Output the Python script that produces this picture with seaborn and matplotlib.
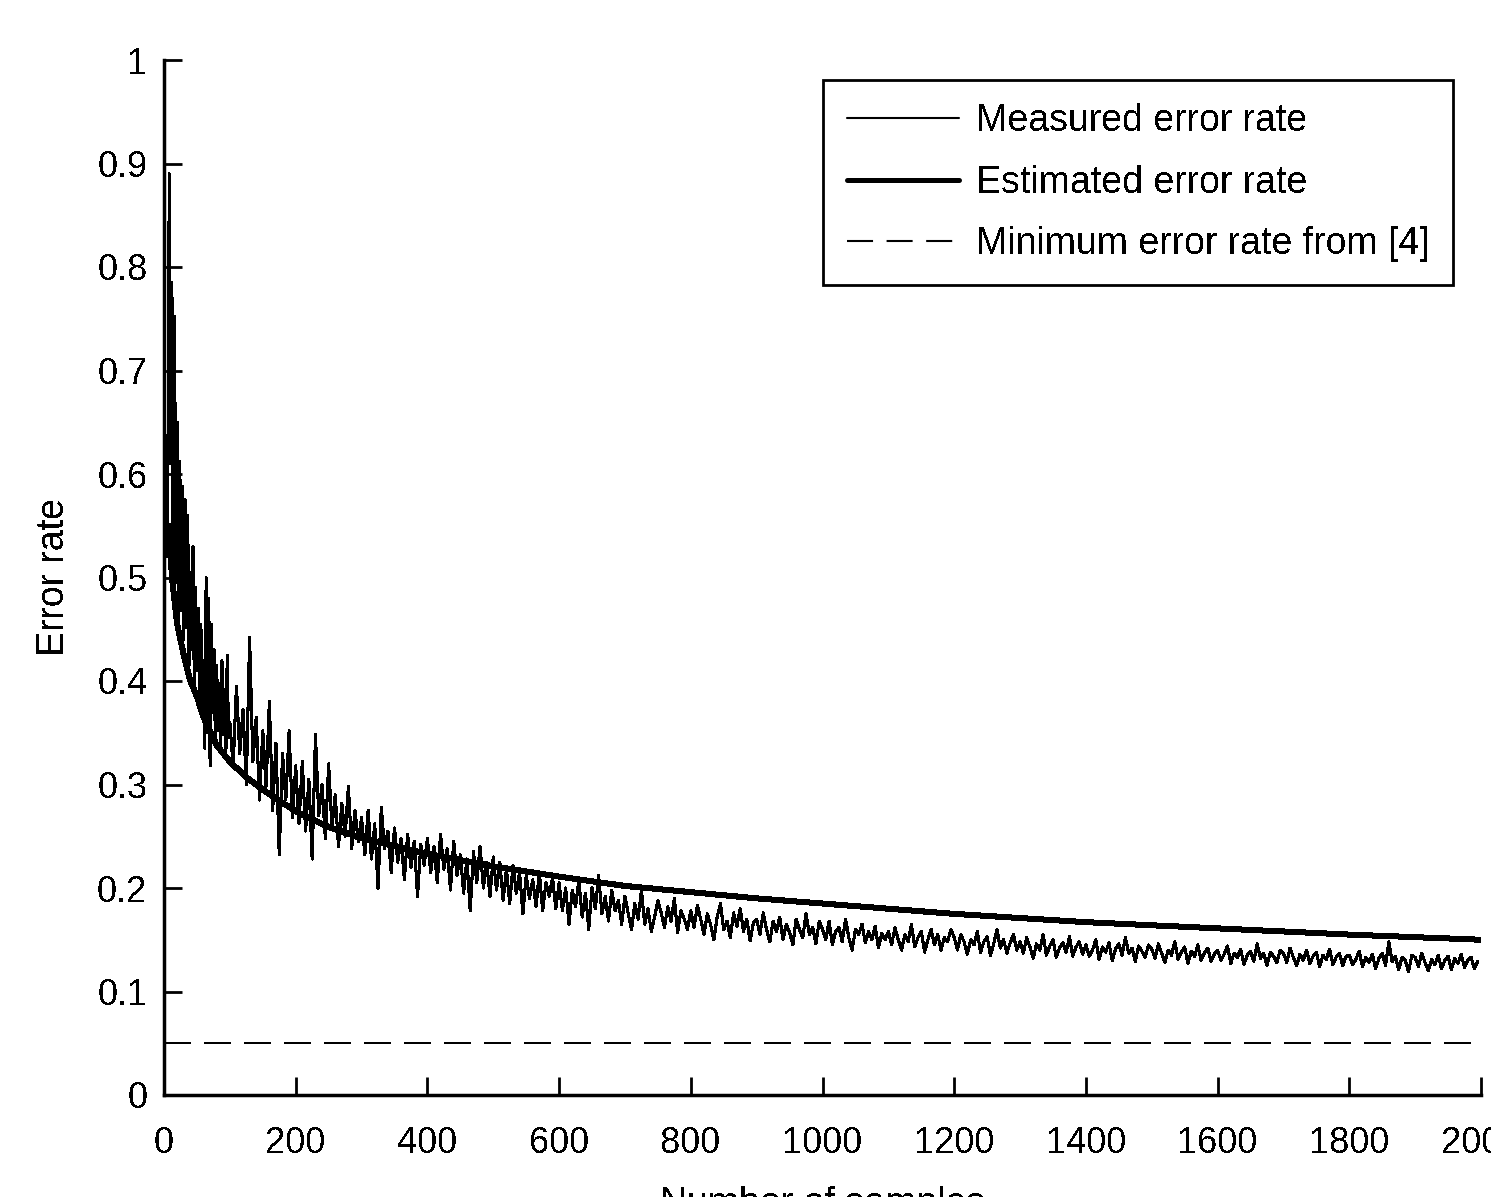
import numpy as np
import pandas as pd
import matplotlib
matplotlib.use('Agg')
import matplotlib.pyplot as plt
import seaborn as sns


# Measured error rate (every 2 samples up to 98)
early_samples = np.arange(0, 100, 2)
measured_early = [
    0.550, 0.545, 0.520, 0.620, 0.890, 0.610, 0.785, 0.470, 0.752, 0.495,
    0.650, 0.455, 0.612, 0.468, 0.588, 0.440, 0.575, 0.452, 0.560, 0.415,
    0.505, 0.430, 0.530, 0.395, 0.490, 0.410, 0.470, 0.380, 0.455, 0.372,
    0.420, 0.335, 0.500, 0.350, 0.480, 0.318, 0.455, 0.370, 0.430, 0.340,
    0.415, 0.352, 0.398, 0.335, 0.420, 0.348, 0.392, 0.330, 0.425, 0.345,
]

# Measured error rate from 100 on (every 5 samples, one row per 100 samples)
late_samples = np.arange(100, 2000, 5)
measured_late = [
    0.360, 0.318, 0.395, 0.330, 0.372, 0.300, 0.442, 0.322, 0.365, 0.285, 0.352, 0.298, 0.380, 0.275, 0.340, 0.232, 0.330, 0.285, 0.352, 0.268,
    0.318, 0.262, 0.322, 0.255, 0.305, 0.228, 0.348, 0.270, 0.300, 0.248, 0.320, 0.258, 0.290, 0.240, 0.282, 0.250, 0.298, 0.238, 0.275, 0.245,
    0.268, 0.232, 0.275, 0.228, 0.262, 0.200, 0.278, 0.238, 0.255, 0.215, 0.258, 0.225, 0.248, 0.208, 0.252, 0.220, 0.245, 0.192, 0.242, 0.222,
    0.248, 0.215, 0.240, 0.205, 0.252, 0.218, 0.238, 0.198, 0.245, 0.212, 0.232, 0.195, 0.228, 0.178, 0.235, 0.205, 0.240, 0.200, 0.225, 0.192,
    0.230, 0.198, 0.225, 0.188, 0.218, 0.185, 0.222, 0.195, 0.215, 0.175, 0.212, 0.190, 0.208, 0.182, 0.215, 0.178, 0.205, 0.192, 0.210, 0.180,
    0.205, 0.178, 0.200, 0.165, 0.198, 0.182, 0.208, 0.172, 0.195, 0.160, 0.200, 0.180, 0.212, 0.175, 0.192, 0.168, 0.198, 0.178, 0.188, 0.165,
    0.192, 0.175, 0.160, 0.185, 0.170, 0.198, 0.165, 0.180, 0.158, 0.172, 0.188, 0.176, 0.162, 0.182, 0.168, 0.190, 0.157, 0.178, 0.170, 0.160,
    0.178, 0.162, 0.183, 0.170, 0.155, 0.175, 0.165, 0.150, 0.172, 0.185, 0.160, 0.168, 0.152, 0.176, 0.163, 0.180, 0.158, 0.170, 0.149, 0.166,
    0.170, 0.155, 0.176, 0.160, 0.148, 0.168, 0.158, 0.172, 0.150, 0.165, 0.157, 0.145, 0.170, 0.160, 0.152, 0.175, 0.155, 0.162, 0.146, 0.168,
    0.160, 0.150, 0.168, 0.145, 0.158, 0.162, 0.148, 0.170, 0.152, 0.140, 0.160, 0.155, 0.165, 0.147, 0.158, 0.150, 0.163, 0.142, 0.156, 0.150,
    0.158, 0.145, 0.162, 0.150, 0.140, 0.155, 0.148, 0.165, 0.143, 0.152, 0.158, 0.138, 0.150, 0.160, 0.145, 0.155, 0.140, 0.152, 0.148, 0.160,
    0.152, 0.140, 0.155, 0.148, 0.136, 0.150, 0.145, 0.158, 0.138, 0.148, 0.153, 0.135, 0.146, 0.160, 0.142, 0.150, 0.137, 0.147, 0.155, 0.140,
    0.148, 0.137, 0.152, 0.143, 0.132, 0.146, 0.140, 0.155, 0.135, 0.144, 0.150, 0.133, 0.142, 0.147, 0.138, 0.153, 0.134, 0.143, 0.148, 0.136,
    0.145, 0.134, 0.140, 0.150, 0.131, 0.143, 0.138, 0.147, 0.130, 0.141, 0.146, 0.135, 0.152, 0.137, 0.142, 0.129, 0.144, 0.139, 0.133, 0.145,
    0.141, 0.132, 0.146, 0.137, 0.128, 0.140, 0.135, 0.148, 0.131, 0.138, 0.143, 0.127, 0.139, 0.134, 0.145, 0.130, 0.137, 0.142, 0.129, 0.136,
    0.140, 0.130, 0.136, 0.144, 0.127, 0.137, 0.133, 0.141, 0.126, 0.135, 0.139, 0.129, 0.146, 0.132, 0.137, 0.125, 0.138, 0.134, 0.128, 0.140,
    0.137, 0.128, 0.142, 0.133, 0.125, 0.136, 0.130, 0.140, 0.127, 0.134, 0.138, 0.124, 0.135, 0.131, 0.141, 0.126, 0.133, 0.137, 0.125, 0.134,
    0.135, 0.126, 0.131, 0.139, 0.124, 0.133, 0.128, 0.136, 0.122, 0.132, 0.137, 0.125, 0.148, 0.129, 0.134, 0.121, 0.133, 0.130, 0.119, 0.135,
    0.133, 0.124, 0.137, 0.128, 0.120, 0.131, 0.126, 0.135, 0.122, 0.130, 0.134, 0.121, 0.132, 0.127, 0.136, 0.123, 0.130, 0.133, 0.122, 0.129,
]

# Estimated error rate (smooth curve)
est_samples = [0, 8, 12, 20, 30, 40, 50, 60, 80, 100, 125, 150, 200, 250, 300,
               400, 500, 600, 700, 800, 900, 1000, 1200, 1400, 1600, 1800, 2000]
est_rate = [0.550, 0.550, 0.500, 0.455, 0.425, 0.400, 0.385, 0.365, 0.338, 0.322,
            0.307, 0.295, 0.274, 0.259, 0.248, 0.233, 0.221, 0.211, 0.202, 0.196,
            0.190, 0.185, 0.175, 0.167, 0.161, 0.155, 0.150]

# Minimum error rate from [4]
min_samples = [0, 2000]
min_rate = [0.05, 0.05]

x_ticks = [0, 200, 400, 600, 800, 1000, 1200, 1400, 1600, 1800, 2000]
y_ticks = [0, 0.1, 0.2, 0.3, 0.4, 0.5, 0.6, 0.7, 0.8, 0.9, 1]
y_ticklabels = ['0', '0.1', '0.2', '0.3', '0.4', '0.5', '0.6', '0.7', '0.8', '0.9', '1']

sns.set_style('white')
plt.rcParams['font.family'] = ['Liberation Sans', 'DejaVu Sans']
plt.rcParams['text.antialiased'] = False
plt.rcParams['text.color'] = 'black'
plt.rcParams['axes.labelcolor'] = 'black'
plt.rcParams['xtick.color'] = 'black'
plt.rcParams['ytick.color'] = 'black'

fig = plt.figure(figsize=(14.91, 11.97), dpi=100)
ax = fig.add_axes([164 / 1491, 102 / 1197, 1317 / 1491, 1035 / 1197])

measured = pd.DataFrame({
    'samples': np.concatenate([early_samples, late_samples]),
    'rate': measured_early + measured_late,
})
sns.lineplot(data=measured, x='samples', y='rate', color='black', lw=1.5,
             antialiased=False, label='Measured error rate', ax=ax)
sns.lineplot(x=est_samples, y=est_rate, color='black', lw=3.6,
             antialiased=False, label='Estimated error rate', ax=ax)
sns.lineplot(x=min_samples, y=min_rate, color='black', lw=1.5,
             linestyle=(0, (12.5, 6.5)), antialiased=False,
             label='Minimum error rate from [4]', ax=ax)

ax.set_xlim(0, 2000)
ax.set_ylim(0, 1)
ax.set_xticks(x_ticks)
ax.set_yticks(y_ticks)
ax.set_yticklabels(y_ticklabels)

for side in ['top', 'right']:
    ax.spines[side].set_visible(False)
for side in ['left', 'bottom']:
    ax.spines[side].set_linewidth(2.5)
    ax.spines[side].set_color('black')

ax.tick_params(direction='in', length=13, width=2, labelsize=26,
               color='black', labelcolor='black', left=True, bottom=True)
ax.tick_params(axis='x', pad=22)
ax.tick_params(axis='y', pad=12)

ax.set_xlabel('Number of samples', fontsize=27, labelpad=18)
ax.set_ylabel('Error rate', fontsize=27, labelpad=18)

leg = ax.legend(loc='upper right', bbox_to_anchor=(0.9787, 0.9807),
                borderaxespad=0, frameon=True, fancybox=False,
                edgecolor='black', framealpha=1, fontsize=27,
                handlelength=3.0, handletextpad=0.45, labelspacing=0.68,
                borderpad=0.62)
leg.get_frame().set_linewidth(2)

fig.savefig('out.png', dpi=100)
